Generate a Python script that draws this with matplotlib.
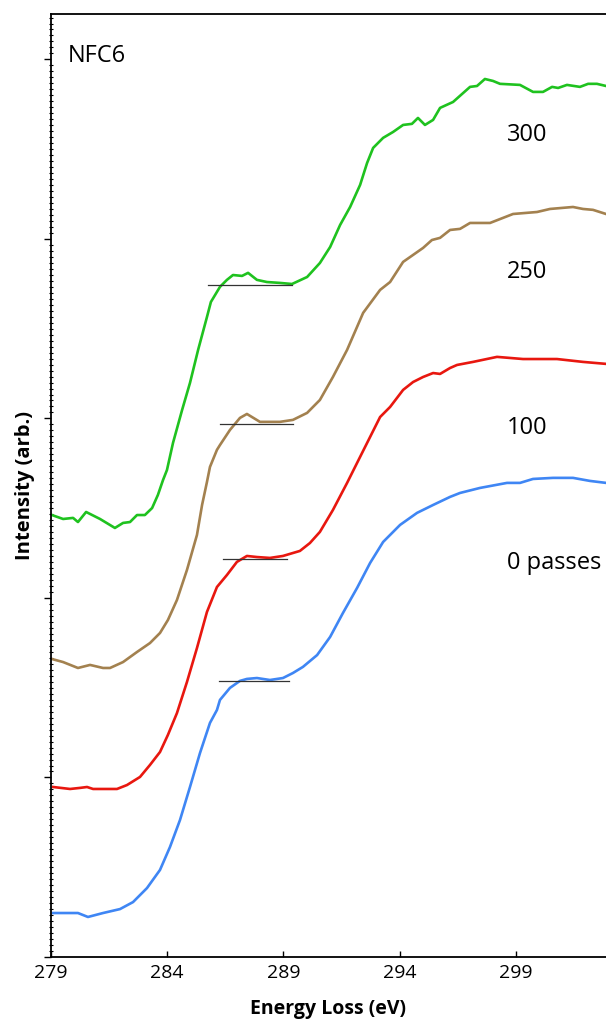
import matplotlib
matplotlib.use("Agg")
import matplotlib.pyplot as plt
from matplotlib.ticker import MultipleLocator, AutoMinorLocator, NullFormatter

plt.rcParams['font.family'] = ['Open Sans', 'DejaVu Sans']

# 0 passes
e_0 = [279.09, 280.16, 280.59, 281.24, 281.97, 282.53, 283.13, 283.69, 284.12, 284.55,
       284.98, 285.41, 285.84, 286.14, 286.27, 286.70, 287.13, 287.43, 287.86, 288.42,
       288.98, 289.41, 289.84, 290.45, 291.01, 291.56, 292.17, 292.73, 293.29, 294.02,
       294.75, 295.44, 296.17, 296.60, 297.46, 298.62, 299.18, 299.74, 300.60, 301.46,
       302.19, 302.88]
i_0 = [0.245, 0.245, 0.223, 0.245, 0.267, 0.306, 0.384, 0.485, 0.613, 0.763,
       0.947, 1.136, 1.304, 1.376, 1.432, 1.499, 1.538, 1.549, 1.554, 1.543,
       1.554, 1.582, 1.616, 1.682, 1.783, 1.916, 2.056, 2.195, 2.312, 2.407,
       2.474, 2.518, 2.563, 2.585, 2.613, 2.641, 2.641, 2.663, 2.669, 2.669,
       2.652, 2.641]

# 100 passes
e_100 = [279.09, 279.82, 280.25, 280.55, 280.81, 281.84, 282.27, 282.83, 283.26, 283.69,
         284.03, 284.42, 284.85, 285.28, 285.71, 286.14, 286.57, 287.00, 287.43, 287.86,
         288.42, 288.98, 289.71, 290.14, 290.57, 291.13, 291.74, 292.30, 292.73, 293.16,
         293.59, 294.15, 294.58, 295.01, 295.44, 295.74, 296.17, 296.47, 297.16, 298.19,
         299.31, 300.77, 301.89, 302.88]
i_100 = [0.947, 0.936, 0.942, 0.947, 0.936, 0.936, 0.958, 1.003, 1.070, 1.142,
         1.237, 1.359, 1.532, 1.721, 1.922, 2.061, 2.128, 2.201, 2.234, 2.228,
         2.223, 2.234, 2.262, 2.306, 2.368, 2.490, 2.641, 2.786, 2.897, 3.008,
         3.064, 3.159, 3.203, 3.231, 3.253, 3.248, 3.281, 3.298, 3.315, 3.343,
         3.331, 3.331, 3.315, 3.304]

# 250 passes
e_250 = [279.04, 279.52, 280.16, 280.68, 281.24, 281.54, 282.10, 282.70, 283.26, 283.69,
         284.03, 284.42, 284.85, 285.28, 285.50, 285.71, 285.84, 286.14, 286.27, 286.70,
         287.13, 287.43, 287.99, 288.85, 289.41, 290.02, 290.57, 291.13, 291.74, 292.43,
         293.16, 293.59, 294.15, 294.58, 295.01, 295.39, 295.74, 296.17, 296.60, 297.03,
         297.89, 298.88, 299.91, 300.47, 301.46, 301.89, 302.32, 302.88]
i_250 = [1.660, 1.643, 1.610, 1.627, 1.610, 1.610, 1.643, 1.699, 1.749, 1.805,
         1.877, 1.989, 2.156, 2.351, 2.518, 2.646, 2.730, 2.825, 2.852, 2.936,
         3.003, 3.025, 2.981, 2.981, 2.992, 3.031, 3.103, 3.231, 3.382, 3.588,
         3.716, 3.760, 3.872, 3.911, 3.950, 3.994, 4.006, 4.050, 4.056, 4.089,
         4.089, 4.139, 4.150, 4.167, 4.178, 4.167, 4.162, 4.139]

# 300 passes
e_300 = [279.04, 279.52, 279.95, 280.16, 280.51, 281.11, 281.75, 282.10, 282.40, 282.70,
         283.04, 283.35, 283.60, 283.82, 283.99, 284.25, 284.64, 284.98, 285.33, 285.71,
         285.88, 286.27, 286.57, 286.83, 287.22, 287.48, 287.86, 288.29, 288.85, 289.37,
         290.02, 290.57, 291.01, 291.44, 291.87, 292.30, 292.60, 292.86, 293.29, 293.72,
         294.15, 294.53, 294.79, 295.09, 295.44, 295.74, 296.30, 297.03, 297.33, 297.67,
         298.02, 298.32, 299.18, 299.74, 300.17, 300.56, 300.82, 301.20, 301.76, 302.11,
         302.49, 302.88]
i_300 = [2.462, 2.440, 2.446, 2.423, 2.479, 2.440, 2.390, 2.418, 2.423, 2.462,
         2.462, 2.501, 2.574, 2.657, 2.713, 2.864, 3.047, 3.198, 3.382, 3.565,
         3.649, 3.733, 3.772, 3.799, 3.794, 3.811, 3.772, 3.760, 3.755, 3.749,
         3.788, 3.866, 3.955, 4.078, 4.178, 4.301, 4.423, 4.507, 4.563, 4.596,
         4.635, 4.641, 4.674, 4.635, 4.663, 4.730, 4.763, 4.847, 4.852, 4.891,
         4.880, 4.864, 4.858, 4.819, 4.819, 4.847, 4.841, 4.858, 4.847, 4.864,
         4.864, 4.852]

# plateau guide lines: (start eV, end eV, level)
guides = [(285.76, 289.37, 3.744),
          (286.27, 289.41, 2.969),
          (286.40, 289.15, 2.217),
          (286.23, 289.24, 1.538)]

labels = ["300", "250", "100", "0 passes"]
label_y = [4.579, 3.816, 2.947, 2.195]

fig = plt.figure(figsize=(6.06, 10.21), dpi=100)
ax = fig.add_axes([51 / 606, 64 / 1021, 1 - 51 / 606, 943 / 1021])

ax.plot(e_0, i_0, color="#3f86f4", lw=1.9)
ax.plot(e_100, i_100, color="#e8170f", lw=1.9)
ax.plot(e_250, i_250, color="#a3814f", lw=1.9)
ax.plot(e_300, i_300, color="#1fc21f", lw=1.9)

for x0, x1, lev in guides:
    ax.plot([x0, x1], [lev, lev], color="#333333", lw=0.9)

for txt, yy in zip(labels, label_y):
    ax.text(298.6, yy, txt, fontsize=17, va="center", ha="left")
ax.text(279.73, 5.02, "NFC6", fontsize=17, va="center", ha="left")

ax.set_xlim(279, 302.88)
ax.set_ylim(0, 5.253)
ax.set_xticks([279, 284, 289, 294, 299])
ax.yaxis.set_major_locator(MultipleLocator(1))
ax.yaxis.set_minor_locator(AutoMinorLocator(30))
ax.yaxis.set_major_formatter(NullFormatter())

ax.spines["right"].set_visible(False)
for s in ["left", "top", "bottom"]:
    ax.spines[s].set_linewidth(1.3)

ax.tick_params(axis="x", direction="in", length=4, width=1, labelsize=14, pad=5)
ax.tick_params(axis="y", which="major", direction="out", length=5, width=1)
ax.tick_params(axis="y", which="minor", direction="inout", length=3, width=0.8)

ax.set_xlabel("Energy Loss (eV)", fontsize=14, fontweight="bold", labelpad=12)
ax.set_ylabel("Intensity (arb.)", fontsize=14.5, fontweight="bold", labelpad=3)

fig.savefig("out.png", dpi=100)
